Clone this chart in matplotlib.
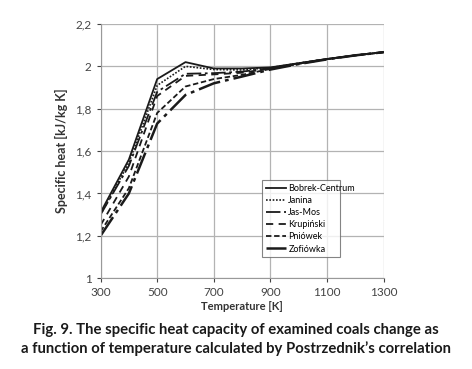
import matplotlib
matplotlib.use("Agg")
import matplotlib.pyplot as plt

# data
temperatura = [300, 400, 500, 600, 700, 800, 900, 1000, 1100, 1200, 1300]
bobrek = [1.31, 1.56, 1.94, 2.02, 1.99, 1.99, 1.995, 2.015, 2.035, 2.052, 2.067]
janina = [1.30, 1.545, 1.91, 2.00, 1.985, 1.983, 1.994, 2.015, 2.035, 2.052, 2.067]
jasmos = [1.30, 1.53, 1.88, 1.965, 1.968, 1.975, 1.992, 2.014, 2.035, 2.052, 2.067]
krupinski = [1.25, 1.48, 1.86, 1.955, 1.962, 1.97, 1.99, 2.013, 2.034, 2.052, 2.067]
pniowek = [1.22, 1.425, 1.78, 1.905, 1.94, 1.96, 1.988, 2.012, 2.034, 2.052, 2.067]
zofiowka = [1.20, 1.40, 1.73, 1.865, 1.92, 1.952, 1.985, 2.011, 2.033, 2.052, 2.067]

nama = ["Bobrek-Centrum", "Janina", "Jas-Mos", "Krupiński", "Pniówek", "Zofiówka"]
seri = [bobrek, janina, jasmos, krupinski, pniowek, zofiowka]
gaya = [
    ("-", 1.3),
    ((0, (1, 1)), 1.2),
    ((0, (8, 2, 1.5, 2)), 1.3),
    ((0, (4, 3)), 1.3),
    ((0, (3, 1.5)), 1.3),
    ((0, (9, 2, 1.5, 2)), 1.8),
]

plt.rcParams['font.family'] = ['Lato', 'DejaVu Sans']

fig = plt.figure(figsize=(4.72, 3.69), dpi=100)
ax = fig.add_axes([0.213, 0.246, 0.6, 0.689])

for nm, ys, (ls, lw) in zip(nama, seri, gaya):
    ax.plot(temperatura, ys, color="#1a1a1a", linestyle=ls, linewidth=lw, label=nm)

ax.set_xlim(300, 1300)
ax.set_ylim(1, 2.2)
ax.set_xticks([300, 500, 700, 900, 1100, 1300])
ax.set_yticks([1, 1.2, 1.4, 1.6, 1.8, 2, 2.2])
ax.set_yticklabels(["1", "1,2", "1,4", "1,6", "1,8", "2", "2,2"])
ax.tick_params(labelsize=8.5, colors="#444444", length=3, width=0.8)
ax.grid(True, color="#b3b3b3", linewidth=0.9)
for s in ["top", "right"]:
    ax.spines[s].set_visible(False)
for s in ["left", "bottom"]:
    ax.spines[s].set_color("#999999")
ax.set_axisbelow(True)

ax.set_xlabel("Temperature [K]", fontsize=8, fontweight="bold", color="#333333", labelpad=2)
ax.set_ylabel("Specific heat [kJ/kg K]", fontsize=9, fontweight="bold", color="#333333", labelpad=5)

leg = ax.legend(loc="lower left", bbox_to_anchor=(0.555, 0.065, 0.305, 0.295), mode="expand",
                fontsize=6.5, frameon=True, fancybox=False, handlelength=2.2, handletextpad=0.3,
                borderpad=0.4, labelspacing=0.35)
leg.get_frame().set_edgecolor("#666666")
leg.get_frame().set_linewidth(0.8)

fig.text(0.5, 0.08, "Fig. 9. The specific heat capacity of examined coals change as\n"
         "a function of temperature calculated by Postrzednik\u2019s correlation",
         ha="center", va="center", fontsize=10.7, fontweight="bold", color="#1a1a1a",
         linespacing=1.4)

fig.savefig("out.png", dpi=100)
